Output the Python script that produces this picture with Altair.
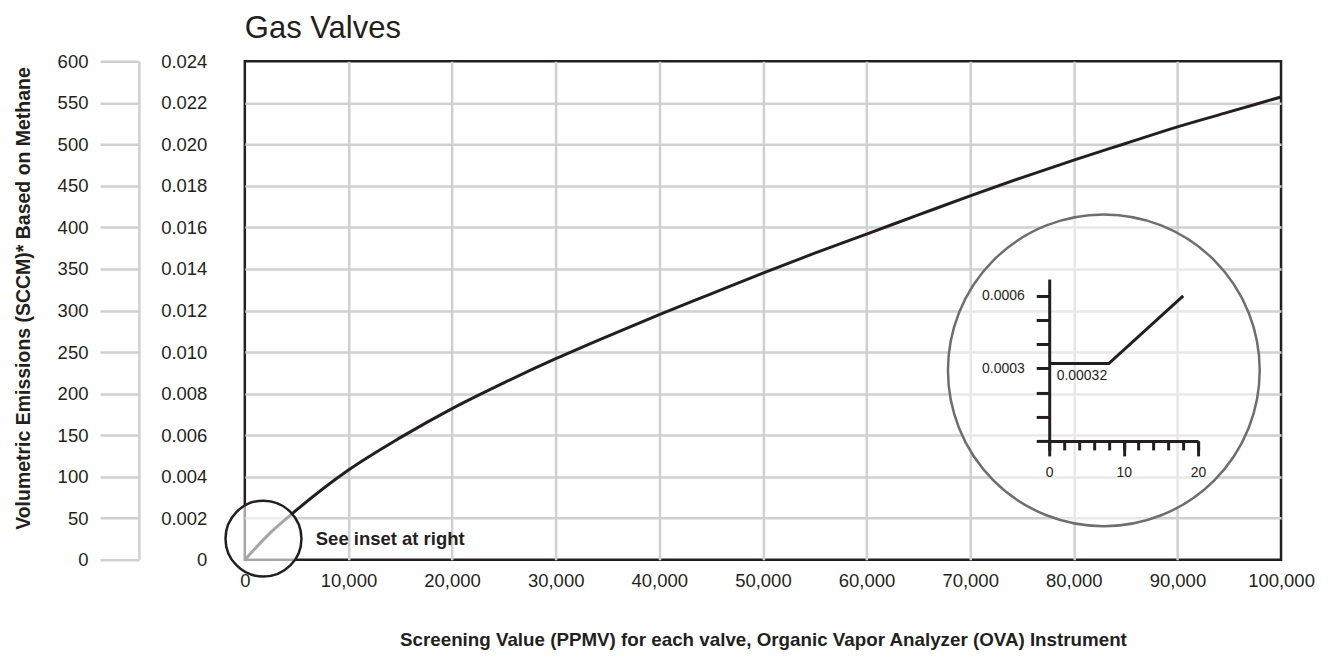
import altair as alt
import pandas as pd

# ---------------- data ----------------
screening_value = [0, 2500, 5000, 10000, 15000, 20000, 25000, 30000, 35000, 40000, 45000,
                   50000, 55000, 60000, 65000, 70000, 75000, 80000, 85000, 90000, 95000, 100000]
emissions_sccm = [0, 33, 60, 108, 147, 182, 213, 242, 269, 295, 320,
                  345, 369, 392, 415, 438, 460, 481, 501, 521, 539, 557]

x_ticks = [0, 10000, 20000, 30000, 40000, 50000, 60000, 70000, 80000, 90000, 100000]
sccm_ticks = [0, 50, 100, 150, 200, 250, 300, 350, 400, 450, 500, 550, 600]

# annotation anchors (data units of the main chart)
big_circle_x = [82900]
big_circle_y = [228]
small_circle_x = [1800]
small_circle_y = [25.5]
note_x = [6850]
note_y = [25.5]
note_text = ["See inset at right"]

# inset
inset_sv = [0, 8, 18]
inset_rate = [0.00032, 0.00032, 0.0006]
inset_x_minor = [0, 2, 4, 6, 8, 10, 12, 14, 16, 18, 20]
inset_x_major = [0, 10, 20]
inset_y_ticks = [0, 0.0001, 0.0002, 0.0003, 0.0004, 0.0005, 0.0006]
inset_label_x = [1]
inset_label_y = [0.000268]
inset_label_text = ["0.00032"]

# ---------------- styles ----------------
INK = "#231f20"
GRID = "#d0d0d0"
FONT = "Liberation Sans"
W, H = 1037, 499

curve_df = pd.DataFrame({"sv": screening_value, "sccm": emissions_sccm})
big_df = pd.DataFrame({"x": big_circle_x, "y": big_circle_y})
small_df = pd.DataFrame({"x": small_circle_x, "y": small_circle_y})
note_df = pd.DataFrame({"x": note_x, "y": note_y, "t": note_text})
inset_df = pd.DataFrame({"isv": inset_sv, "irate": inset_rate})
inset_lab_df = pd.DataFrame({"isv": inset_label_x, "irate": inset_label_y, "t": inset_label_text})


def xs():
    return alt.Scale(domain=[0, 100000], nice=False, zero=False)


def ys():
    return alt.Scale(domain=[0, 600], nice=False)


def ixs():
    return alt.Scale(domain=[0, 20], range=[805, 954], nice=False, zero=False)


def iys():
    return alt.Scale(domain=[0, 0.00067], range=[380, 218], nice=False)


# invisible layer carrying the inner (0.024) axis and the horizontal grid
units_axis = alt.Chart(curve_df).mark_point(opacity=0).encode(
    x=alt.X("sv:Q", scale=xs(), axis=None),
    y=alt.Y("sccm:Q", scale=ys(), axis=alt.Axis(
        orient="left", values=sccm_ticks,
        labelExpr="datum.value == 0 ? '0' : format(datum.value / 25000, '.3f')",
        ticks=False, tickSize=0, domain=False,
        grid=True, gridColor=GRID, gridWidth=2.5,
        gridOpacity={"condition": {"test": "datum.value == 0 || datum.value == 600", "value": 0}, "value": 1},
        labelFont=FONT, labelFontSize=18.5, labelColor=INK, labelPadding=38,
        title=None)),
)

curve = alt.Chart(curve_df).mark_line(color=INK, strokeWidth=3, interpolate="monotone").encode(
    x=alt.X("sv:Q", scale=xs(), axis=alt.Axis(
        orient="bottom", values=x_ticks,
        labelExpr="format(datum.value, ',d')",
        ticks=False, tickSize=0, domain=False,
        grid=True, gridColor=GRID, gridWidth=2.5,
        gridOpacity={"condition": {"test": "datum.value == 0 || datum.value == 100000", "value": 0}, "value": 1},
        labelFont=FONT, labelFontSize=18.5, labelColor=INK, labelPadding=12, labelFlush=False,
        title="Screening Value (PPMV) for each valve, Organic Vapor Analyzer (OVA) Instrument",
        titleFont=FONT, titleFontSize=18.8, titleFontWeight="bold", titleColor=INK, titlePadding=40)),
    y=alt.Y("sccm:Q", scale=ys(), axis=alt.Axis(
        orient="left", offset=106, values=sccm_ticks,
        tickSize=39, tickWidth=2.5, tickColor=GRID,
        domain=True, domainColor=GRID, domainWidth=2.5, grid=False,
        labelFont=FONT, labelFontSize=18.5, labelColor=INK, labelPadding=12,
        title="Volumetric Emissions (SCCM)* Based on Methane",
        titleFont=FONT, titleFontSize=19.5, titleFontWeight="bold", titleColor=INK,
        titlePadding=24, titleY=237)),
)

big_circle = alt.Chart(big_df).mark_point(
    shape="circle", size=97344, filled=True, fill="white", fillOpacity=0.5,
    stroke="#6d6e71", strokeWidth=2.5, opacity=1,
).encode(x=alt.X("x:Q", scale=xs(), axis=None), y=alt.Y("y:Q", scale=ys(), axis=None))

small_circle = alt.Chart(small_df).mark_point(
    shape="circle", size=5776, filled=True, fill="white", fillOpacity=0.6,
    stroke=INK, strokeWidth=2.5, opacity=1,
).encode(x=alt.X("x:Q", scale=xs(), axis=None), y=alt.Y("y:Q", scale=ys(), axis=None))

note = alt.Chart(note_df).mark_text(
    align="left", baseline="middle", font=FONT, fontWeight="bold", fontSize=18.5, color=INK,
).encode(x=alt.X("x:Q", scale=xs(), axis=None), y=alt.Y("y:Q", scale=ys(), axis=None), text="t:N")

# ---------------- inset ----------------
inset_line = alt.Chart(inset_df).mark_line(color=INK, strokeWidth=3).encode(
    x=alt.X("isv:Q", scale=ixs(), axis=alt.Axis(
        orient="bottom", offset=-119, values=inset_x_major,
        tickSize=15, tickWidth=3, tickColor=INK, domain=False, grid=False,
        labelFont=FONT, labelFontSize=14, labelColor=INK, labelPadding=10, labelFlush=False,
        title=None, zindex=1)),
    y=alt.Y("irate:Q", scale=iys(), axis=alt.Axis(
        orient="left", offset=-805, values=inset_y_ticks,
        tickSize=13, tickWidth=3, tickColor=INK,
        domain=True, domainColor=INK, domainWidth=3, grid=False,
        labelExpr="datum.value > 0 && round(datum.value * 10000) % 3 == 0 ? format(datum.value, '.4f') : ''",
        labelFont=FONT, labelFontSize=14, labelColor=INK, labelPadding=12,
        title=None, zindex=1)),
)

inset_minor = alt.Chart(inset_df).mark_point(opacity=0).encode(
    x=alt.X("isv:Q", scale=ixs(), axis=alt.Axis(
        orient="bottom", offset=-119, values=inset_x_minor,
        tickSize=9, tickWidth=3, tickColor=INK,
        domain=True, domainColor=INK, domainWidth=3, grid=False, labels=False,
        title=None, zindex=1)),
    y=alt.Y("irate:Q", scale=iys(), axis=None),
)

inset_note = alt.Chart(inset_lab_df).mark_text(
    align="left", baseline="middle", font=FONT, fontSize=14, color=INK,
).encode(x=alt.X("isv:Q", scale=ixs(), axis=None), y=alt.Y("irate:Q", scale=iys(), axis=None), text="t:N")

chart = alt.layer(
    units_axis, curve, big_circle, small_circle, note, inset_line, inset_minor, inset_note
).resolve_scale(x="independent", y="independent").properties(
    width=W, height=H,
    title=alt.TitleParams("Gas Valves", anchor="start", frame="group", font=FONT, fontSize=31,
                          fontWeight="normal", color=INK, offset=7),
    padding={"left": 5, "top": 5, "right": 5, "bottom": 0},
).configure_view(stroke=INK, strokeWidth=2.5)

chart.save("out.html", embed_options={"renderer": "svg", "actions": False})
